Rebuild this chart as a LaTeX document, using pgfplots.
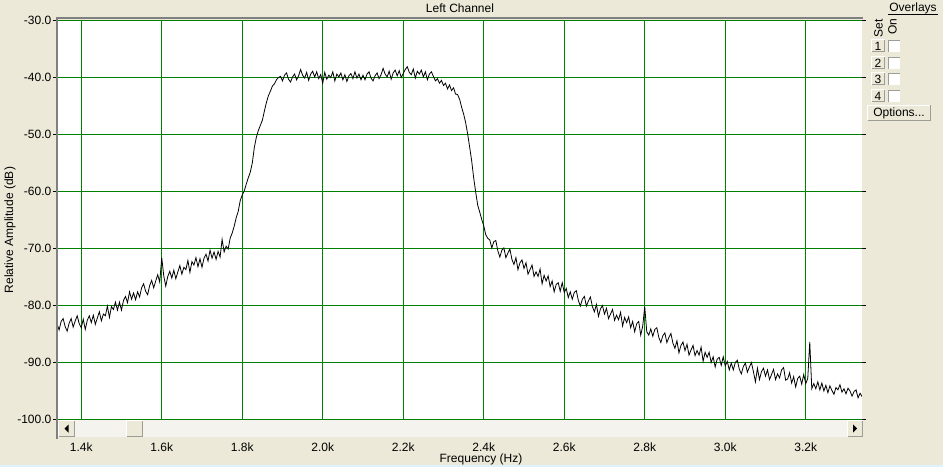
\documentclass[border=0pt]{standalone}
\usepackage{pgfplots}
\pgfplotsset{compat=1.18}
\usepackage{pgfplotstable}
\usepackage{fontspec}
\setmainfont{Liberation Sans}
\definecolor{winbg}{HTML}{ECE9D8}
\definecolor{gridgreen}{RGB}{0,128,0}
\definecolor{trackbg}{HTML}{F4F3EE}
\definecolor{btnshadow}{HTML}{9D9D98}
\definecolor{lightblue}{HTML}{DDF2FB}

\pgfplotstableread{
f db
1340 -83.2
1345 -84.3
1350 -82.8
1355 -82.3
1360 -83.7
1365 -84.5
1370 -83.1
1375 -82.3
1380 -83.8
1385 -82.7
1390 -81.8
1395 -83.2
1400 -83.9
1405 -82.4
1410 -84.2
1415 -82.6
1420 -81.8
1425 -83.0
1430 -81.7
1435 -83.3
1440 -82.2
1445 -81.1
1450 -82.7
1455 -81.5
1460 -81.8
1465 -80.1
1470 -82.1
1475 -80.2
1480 -80.7
1485 -79.4
1490 -80.8
1495 -79.4
1500 -80.8
1505 -79.1
1510 -78.4
1515 -79.5
1520 -77.6
1525 -78.9
1530 -77.8
1535 -79.0
1540 -77.6
1545 -78.5
1550 -76.9
1555 -76.2
1560 -77.5
1565 -78.1
1570 -76.5
1575 -75.6
1580 -76.9
1585 -75.7
1590 -74.6
1595 -75.9
1600 -71.6
1605 -74.8
1610 -76.6
1615 -74.9
1620 -74.0
1625 -75.2
1630 -73.8
1635 -75.3
1640 -74.1
1645 -73.0
1650 -74.5
1655 -73.3
1660 -73.7
1665 -72.1
1670 -74.2
1675 -72.3
1680 -72.9
1685 -71.6
1690 -73.2
1695 -71.8
1700 -73.3
1705 -71.7
1710 -71.0
1715 -72.2
1720 -70.3
1725 -71.7
1730 -70.6
1735 -71.9
1740 -70.5
1745 -71.5
1750 -68.4
1755 -70.6
1760 -69.6
1765 -70.1
1770 -68.2
1775 -67.3
1780 -66.1
1785 -64.6
1790 -63.5
1795 -61.6
1800 -60.6
1805 -59.9
1810 -58.7
1815 -57.6
1820 -56.6
1825 -55.0
1830 -52.3
1835 -50.5
1840 -49.3
1845 -48.4
1850 -47.5
1855 -45.9
1860 -44.4
1865 -43.2
1870 -42.4
1875 -41.5
1880 -41.1
1885 -40.4
1890 -40.0
1895 -39.8
1900 -40.6
1905 -39.6
1910 -39.2
1915 -40.3
1920 -40.8
1925 -39.9
1930 -39.4
1935 -40.4
1940 -39.7
1945 -38.6
1950 -39.6
1955 -40.1
1960 -39.1
1965 -40.5
1970 -39.4
1975 -38.9
1980 -39.9
1985 -39.0
1990 -40.2
1995 -39.5
2000 -41.0
2005 -39.1
2010 -40.3
2015 -39.6
2020 -40.0
2025 -39.0
2030 -40.6
2035 -39.4
2040 -39.9
2045 -39.2
2050 -40.4
2055 -39.5
2060 -40.7
2065 -39.7
2070 -39.3
2075 -40.2
2080 -39.0
2085 -40.1
2090 -39.4
2095 -40.4
2100 -39.6
2105 -40.4
2110 -39.4
2115 -39.0
2120 -40.1
2125 -40.6
2130 -39.7
2135 -39.2
2140 -40.2
2145 -39.5
2150 -38.4
2155 -39.4
2160 -39.9
2165 -38.9
2170 -40.3
2175 -39.2
2180 -38.7
2185 -39.7
2190 -38.8
2195 -40.0
2200 -39.3
2205 -38.6
2210 -38.1
2215 -39.1
2220 -39.5
2225 -38.5
2230 -40.1
2235 -38.9
2240 -39.4
2245 -38.7
2250 -39.9
2255 -39.0
2260 -40.4
2265 -39.4
2270 -39.0
2275 -39.8
2280 -40.6
2285 -40.2
2290 -41.0
2295 -40.5
2300 -41.4
2305 -41.0
2310 -42.0
2315 -41.3
2320 -42.3
2325 -41.8
2330 -42.9
2335 -43.0
2340 -43.8
2345 -45.2
2350 -46.4
2355 -47.9
2360 -49.9
2365 -52.2
2370 -54.6
2375 -57.6
2380 -60.1
2385 -62.4
2390 -63.6
2395 -64.9
2400 -66.0
2405 -67.6
2410 -68.2
2415 -68.5
2420 -69.9
2425 -68.8
2430 -68.6
2435 -70.4
2440 -71.5
2445 -70.3
2450 -69.9
2455 -71.6
2460 -70.8
2465 -70.1
2470 -71.9
2475 -72.8
2480 -71.6
2485 -73.7
2490 -72.5
2495 -72.0
2500 -73.5
2505 -72.5
2510 -74.5
2515 -73.7
2520 -72.9
2525 -74.9
2530 -74.1
2535 -74.9
2540 -73.6
2545 -76.2
2550 -74.7
2555 -75.7
2560 -74.8
2565 -76.7
2570 -75.7
2575 -77.6
2580 -76.3
2585 -76.0
2590 -77.5
2595 -76.0
2600 -77.7
2605 -77.0
2610 -78.6
2615 -77.6
2620 -78.9
2625 -77.7
2630 -77.4
2635 -79.1
2640 -80.1
2645 -78.9
2650 -78.4
2655 -80.1
2660 -79.2
2665 -78.5
2670 -80.2
2675 -81.1
2680 -79.8
2685 -81.9
2690 -80.6
2695 -80.0
2700 -81.5
2705 -80.5
2710 -82.3
2715 -81.5
2720 -80.7
2725 -82.6
2730 -81.7
2735 -82.5
2740 -81.2
2745 -83.6
2750 -82.1
2755 -83.0
2760 -82.0
2765 -83.9
2770 -82.8
2775 -84.6
2780 -83.2
2785 -82.8
2790 -85.2
2795 -83.6
2800 -80.2
2805 -84.6
2810 -85.2
2815 -84.1
2820 -85.4
2825 -84.2
2830 -83.9
2835 -85.6
2840 -86.5
2845 -85.3
2850 -84.8
2855 -86.5
2860 -85.6
2865 -84.9
2870 -86.6
2875 -87.5
2880 -86.2
2885 -88.3
2890 -87.0
2895 -86.4
2900 -87.9
2905 -86.8
2910 -88.7
2915 -87.8
2920 -87.0
2925 -88.8
2930 -87.9
2935 -88.7
2940 -87.3
2945 -89.8
2950 -88.2
2955 -89.1
2960 -88.2
2965 -90.0
2970 -89.0
2975 -90.8
2980 -89.4
2985 -89.1
2990 -90.5
2995 -89.0
3000 -90.6
3005 -89.8
3010 -91.3
3015 -90.1
3020 -91.3
3025 -90.0
3030 -89.6
3035 -91.2
3040 -92.0
3045 -90.7
3050 -90.1
3055 -91.7
3060 -90.8
3065 -90.0
3070 -91.6
3075 -93.4
3080 -91.0
3085 -93.0
3090 -91.6
3095 -91.0
3100 -92.4
3105 -91.3
3110 -93.0
3115 -92.1
3120 -91.2
3125 -93.0
3130 -92.0
3135 -92.7
3140 -91.3
3145 -90.9
3150 -93.1
3155 -92.9
3160 -91.8
3165 -93.6
3170 -92.5
3175 -94.3
3180 -92.8
3185 -92.4
3190 -93.8
3195 -92.1
3200 -93.7
3205 -92.8
3210 -86.4
3215 -94.6
3220 -93.7
3225 -94.6
3230 -93.4
3235 -94.8
3240 -93.6
3245 -95.0
3250 -94.0
3255 -95.3
3260 -94.1
3265 -94.9
3270 -95.6
3275 -94.4
3280 -94.8
3285 -93.9
3290 -95.2
3295 -94.6
3300 -95.5
3305 -94.5
3310 -95.0
3315 -95.9
3320 -95.1
3325 -94.8
3330 -96.2
3335 -95.4
3340 -96.0
}\spectrum

\begin{document}
\fontsize{12}{14}\selectfont
\begin{tikzpicture}[x=1pt,y=1pt]
% window background
\fill[winbg] (0,0) rectangle (943,467);
\fill[lightblue] (0,0) rectangle (943,2.5);
\begin{axis}[
  at={(57pt,47.5pt)}, anchor=south west,
  scale only axis, width=805pt, height=399pt,
  xmin=1339.75, xmax=3339.75, ymin=-100, ymax=-30,
  axis background/.style={fill=white},
  axis line style={draw=none},
  xtick={1400,1600,...,3200},
  xticklabels={1.4k,1.6k,1.8k,2.0k,2.2k,2.4k,2.6k,2.8k,3.0k,3.2k},
  ytick={-100,-90,...,-30},
  yticklabels={-100.0,-90.0,-80.0,-70.0,-60.0,-50.0,-40.0,-30.0},
  xmajorgrids=true, ymajorgrids=true,
  major grid style={draw=gridgreen, line width=1pt},
  tick align=outside,
  major tick length=4pt,
  ytick style={draw=black, line width=0.8pt},
  xtick style={draw=none},
  xticklabel style={yshift=-18pt, inner sep=1pt},
  yticklabel style={inner sep=1pt, xshift=-0.5pt},
  clip mode=individual,
]
\addplot[black, line width=0.8pt] table[x=f, y=db] {\spectrum};
\pgfplotsinvokeforeach{1400,1600,1800,2000,2200,2400,2600,2800,3000,3200}{
  \draw[black, line width=0.8pt] (axis cs:#1,-100) ++(0,-17.5pt) -- ++(0,-3pt);
}
\end{axis}
% plot frame (left and top, grey)
\draw[gray, line width=2pt] (57,28) -- (57,448.5) -- (863,448.5);
% title and labels
\node at (460,459) {Left Channel};
\node[rotate=90] at (10,237) {Relative Amplitude (dB)};
\node at (481,7.5) {Frequency (Hz)};
% scrollbar
\fill[trackbg] (58,30) rectangle (863,47);
\foreach \a/\b in {58/75, 126/143, 847/863}{
  \fill[winbg] (\a,30) rectangle (\b,47);
  \draw[white, line width=1pt] (\a+0.5,30.5) -- (\a+0.5,46.5) -- (\b-0.5,46.5);
  \draw[btnshadow, line width=1pt] (\a+0.5,30.5) -- (\b-0.5,30.5) -- (\b-0.5,46.5);
}
\fill[black] (64.5,38.5) -- (68.5,34.5) -- (68.5,42.5) -- cycle;
\fill[black] (857,38.5) -- (853,34.5) -- (853,42.5) -- cycle;
% overlay panel
\node[inner sep=1pt] (ov) at (913,458.5) {Overlays};
\draw[black, line width=0.7pt] (ov.south west) ++(0,1) -- ([yshift=1pt]ov.south east);
\node[rotate=90, inner sep=0pt] at (878.5,439) {Set};
\node[rotate=90, inner sep=0pt] at (892.5,440.5) {On};
\foreach \n/\yc in {1/421, 2/404, 3/388, 4/371}{
  \fill[winbg] (871,\yc-6.5) rectangle (885,\yc+6.5);
  \draw[white, line width=1pt] (871.5,\yc-6) -- (871.5,\yc+6) -- (884.5,\yc+6);
  \draw[btnshadow, line width=1pt] (871.5,\yc-6) -- (884.5,\yc-6) -- (884.5,\yc+6);
  \node[inner sep=0pt] at (878,\yc) {\n};
  \fill[white] (888,\yc-6) rectangle (900,\yc+6);
  \draw[btnshadow, line width=1pt] (888.5,\yc-6) -- (888.5,\yc+5.5) -- (900,\yc+5.5);
}
\fill[winbg] (867,346) rectangle (931,362);
\draw[white, line width=1pt] (867.5,346.5) -- (867.5,361.5) -- (930.5,361.5);
\draw[btnshadow, line width=1pt] (867.5,346.5) -- (930.5,346.5) -- (930.5,361.5);
\node[inner sep=0pt] at (899,354) {Options...};
\pgfresetboundingbox
\useasboundingbox (0,0) rectangle (943,467);
\end{tikzpicture}
\end{document}
